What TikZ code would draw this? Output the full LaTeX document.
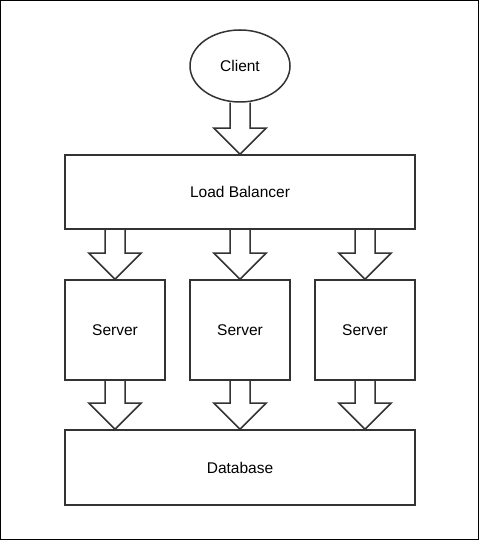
\documentclass[tikz,border=0pt]{standalone}
\usepackage{fontspec}
\setmainfont{Liberation Sans}
\usetikzlibrary{shapes.geometric,calc}
\definecolor{edge}{HTML}{333333}
\tikzset{
  box/.style={draw=edge, line width=1.5pt, fill=white, rectangle, inner sep=0pt,
              font=\fontsize{15.5}{18}\selectfont},
  oval/.style={draw=edge, line width=1.5pt, fill=white, ellipse, inner sep=0pt,
               minimum width=100pt, minimum height=72pt, font=\fontsize{15.5}{18}\selectfont},
  blk/.style={draw=edge, line width=1.5pt, line join=miter}
}
% hollow block arrow pointing down from #1 to #2
\newcommand\blockarrow[2]{%
  \draw[blk] let \p1=(#1), \p2=(#2) in
    (\x1-10pt,\y1) -- (\x1-10pt,\y2+26pt) -- (\x1-26pt,\y2+26pt) -- (\x2,\y2)
    -- (\x1+26pt,\y2+26pt) -- (\x1+10pt,\y2+26pt) -- (\x1+10pt,\y1);}
\begin{document}
\begin{tikzpicture}[x=1pt,y=1pt]
  \useasboundingbox (0,0) rectangle (479,540);
  \draw[black, line width=1pt] (0.5,0.5) rectangle (478.5,539.5);

  \node[oval] (client) at (240,474) {Client};
  \node[box, minimum width=350pt, minimum height=74pt] (lb) at (240,348) {Load Balancer};
  \node[box, minimum width=100pt, minimum height=100pt] (s1) at (115,210) {Server};
  \node[box, minimum width=100pt, minimum height=100pt] (s2) at (240,210) {Server};
  \node[box, minimum width=100pt, minimum height=100pt] (s3) at (365,210) {Server};
  \node[box, minimum width=350pt, minimum height=75pt] (db) at (240,72.5) {Database};

  \blockarrow{client.south}{lb.north}
  \blockarrow{lb.south -| s1}{s1.north}
  \blockarrow{lb.south -| s2}{s2.north}
  \blockarrow{lb.south -| s3}{s3.north}
  \blockarrow{s1.south}{db.north -| s1}
  \blockarrow{s2.south}{db.north -| s2}
  \blockarrow{s3.south}{db.north -| s3}
\end{tikzpicture}
\end{document}
